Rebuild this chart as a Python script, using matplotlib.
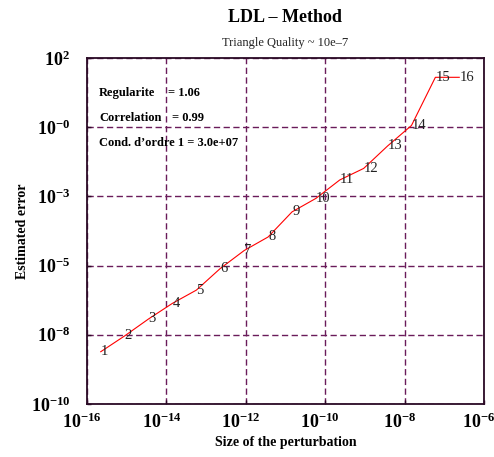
import matplotlib
matplotlib.use("Agg")
import matplotlib.pyplot as plt
import matplotlib.transforms as mtransforms
import numpy as np

# ---- data ----
perturbation = [2.22e-16, 8.88e-16, 3.55e-15, 1.42e-14, 5.68e-14, 2.27e-13,
                9.09e-13, 3.64e-12, 1.46e-11, 5.82e-11, 2.33e-10, 9.31e-10,
                3.73e-09, 1.49e-08, 5.96e-08, 2.38e-07]
error = [6.5e-9, 2.3e-8, 8.9e-8, 3.1e-7, 8.9e-7, 5.0e-6, 2.1e-5, 6.2e-5,
         4.6e-4, 1.35e-3, 5.9e-3, 1.48e-2, 8.9e-2, 0.457, 21.4, 21.4]
point_labels = [str(i) for i in range(1, 17)]

x_ticks = [1e-16, 1e-14, 1e-12, 1e-10, 1e-8, 1e-6]
x_tick_labels = [r"$\mathbf{10^{-16}}$", r"$\mathbf{10^{-14}}$", r"$\mathbf{10^{-12}}$",
                 r"$\mathbf{10^{-10}}$", r"$\mathbf{10^{-8}}$", r"$\mathbf{10^{-6}}$"]
y_tick_exps = [2, -0.4, -2.8, -5.2, -7.6, -10]
y_tick_labels = [r"$\mathbf{10^{2}}$", r"$\mathbf{10^{-0}}$", r"$\mathbf{10^{-3}}$",
                 r"$\mathbf{10^{-5}}$", r"$\mathbf{10^{-8}}$", r"$\mathbf{10^{-10}}$"]

stats_names = ["Regularite", "Correlation", "Cond. d\u2019ordre 1 = 3.0e+07"]
stats_values = ["= 1.06", "= 0.99", ""]

title = "LDL \u2013 Method"
subtitle = "Triangle Quality ~ 10e\u20137"
xlabel = "Size of the perturbation"
ylabel = "Estimated error"

# ---- style ----
plt.rcParams['font.family'] = ['Liberation Serif', 'DejaVu Serif']
plt.rcParams['mathtext.fontset'] = 'custom'
plt.rcParams['mathtext.rm'] = 'Liberation Serif:bold'
plt.rcParams['mathtext.bf'] = 'Liberation Serif:bold'
plt.rcParams['mathtext.it'] = 'Liberation Serif:bold'

grid_color = '#6a1b5a'

fig = plt.figure(figsize=(4.94, 4.57), dpi=100)
ax = fig.add_axes([87/494, 1-404/457, (484-87)/494, (404-58)/457])

ax.set_xscale('log')
ax.set_yscale('log')
ax.set_xlim(1e-16, 1e-6)
ax.set_ylim(1e-10, 1e2)

y_ticks = [10.0**e for e in y_tick_exps]

# grid lines (dashed purple)
for xv in x_ticks:
    ax.axvline(xv, color=grid_color, lw=1.0, ls=(0, (4.5, 2.5)), zorder=1)
for yv in y_ticks:
    ax.axhline(yv, color=grid_color, lw=1.0, ls=(0, (4.5, 2.5)), zorder=1)

for s in ax.spines.values():
    s.set_color('#2a0a25')
    s.set_linewidth(1.3)

ax.plot(perturbation, error, color='red', lw=0.8, zorder=3)
for xv, yv, lab in zip(perturbation, error, point_labels):
    ax.text(xv, yv, lab, ha='left', va='center', fontsize=10.5, color='#222222', zorder=4)

ax.set_xticks(x_ticks)
ax.set_xticklabels(x_tick_labels, fontsize=13)
ax.set_yticks(y_ticks)
ax.set_yticklabels(y_tick_labels, fontsize=13)
ax.minorticks_off()
ax.tick_params(axis='both', direction='in', length=3, color='#2a0a25', width=1)
ax.tick_params(axis='x', pad=6)
ax.tick_params(axis='y', pad=12)

shift = mtransforms.ScaledTranslation(-5/100, 0, fig.dpi_scale_trans)
for lbl in ax.get_xticklabels():
    lbl.set_transform(lbl.get_transform() + shift)

ax.set_xlabel(xlabel, fontsize=10, fontweight='bold', labelpad=3)
ax.set_ylabel(ylabel, fontsize=10, fontweight='bold', labelpad=1)

# stats text
y_pos = [93, 118, 143]
val_x = [168, 172, 0]
for name, val, yp, vx in zip(stats_names, stats_values, y_pos, val_x):
    fig.text(99/494, 1 - yp/457, name, fontsize=9, fontweight='bold', ha='left', va='center')
    if val:
        fig.text(vx/494, 1 - yp/457, val, fontsize=9, fontweight='bold', ha='left', va='center')

fig.text(285/494, 1 - 17/457, title, fontsize=13, fontweight='bold', ha='center', va='center')
fig.text(285/494, 1 - 43/457, subtitle, fontsize=9, ha='center', va='center', color='#222222')

fig.savefig('out.png', dpi=100)
